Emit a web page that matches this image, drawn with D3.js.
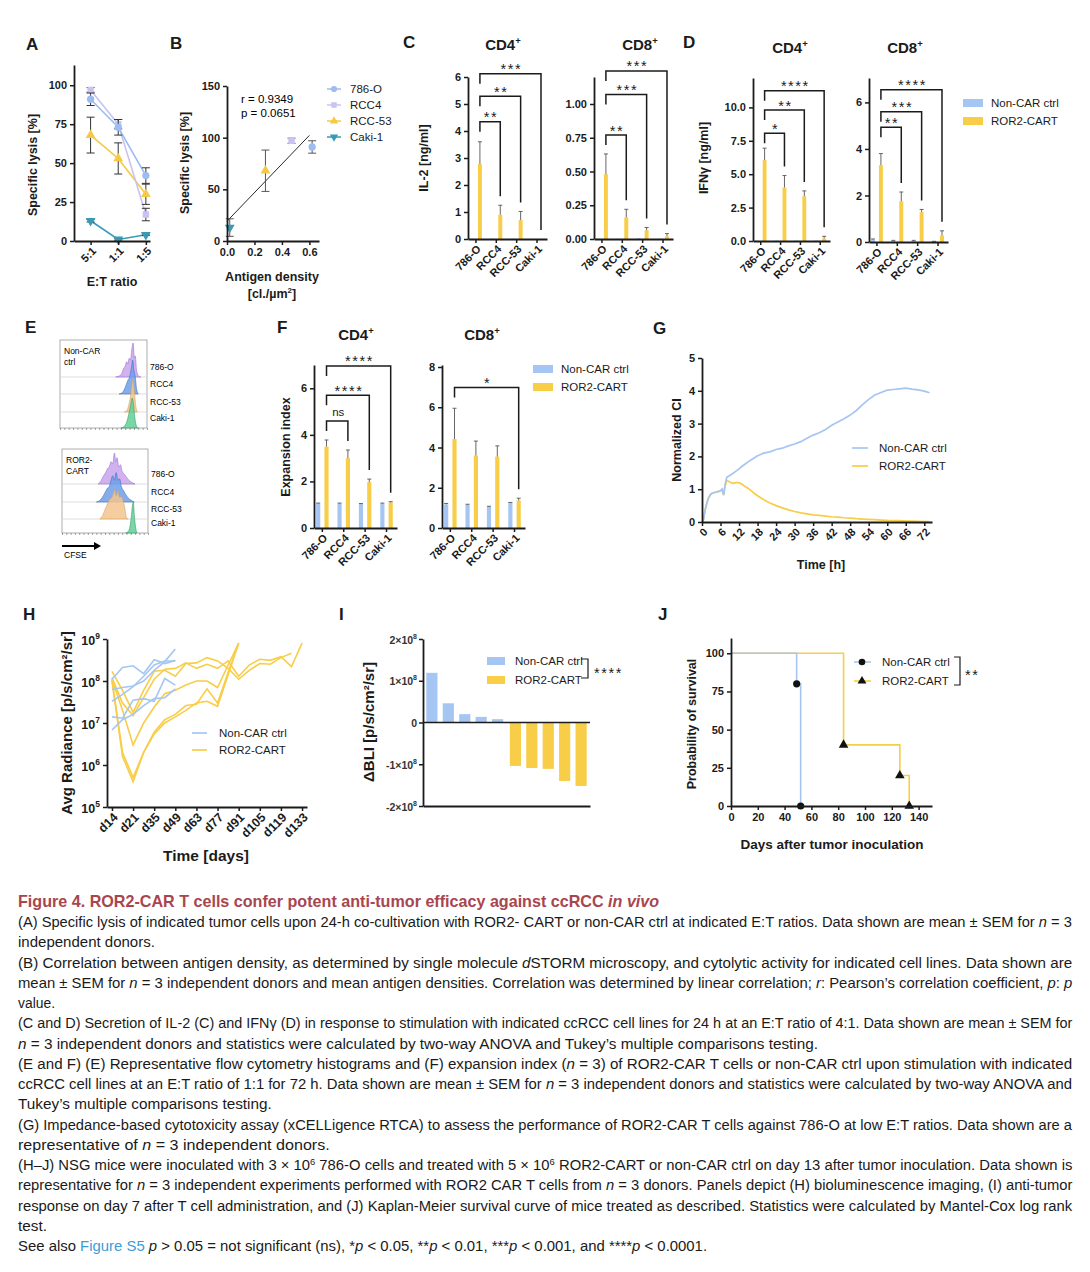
<!DOCTYPE html>
<html>
<head>
<meta charset="utf-8">
<script src="https://cdn.jsdelivr.net/npm/d3@7"></script>
<style>
  body { margin: 0; background: #fff; }
  svg text { font-family: 'Liberation Sans', Arial, sans-serif; }
</style>
</head>
<body>
<svg id="fig" width="1090" height="1272"></svg>
<script>
// ---------------- data ----------------
const cellLines = ['786-O', 'RCC4', 'RCC-53', 'Caki-1'];
const groups = ['Non-CAR ctrl', 'ROR2-CART'];

// A: specific lysis by E:T ratio
const ratios = ['5:1', '1:1', '1:5'];
const lysis786 = [91, 73, 42], lysis786Err = [4, 5, 5];
const lysisRCC4 = [97, 75, 17], lysisRCC4Err = [1.5, 3, 4];
const lysisRCC53 = [68, 53, 30], lysisRCC53Err = [11.5, 10, 6.5];
const lysisCaki = [13, 1, 4], lysisCakiErr = [0.8, 0.5, 0.5];

// B: antigen density vs lysis at 5:1
const antigenDensity = [0.62, 0.47, 0.28, 0.02];
const lysis51 = [91, 97, 68, 13];
const lysis51Err = [6, 2.5, 20, 8.5];

// C: IL-2 [ng/ml]
const il2Cd4Non = [0.01, 0.01, 0.01, 0], il2Cd4Car = [2.78, 0.9, 0.7, 0], il2Cd4CarErr = [0.82, 0.35, 0.32, 0];
const il2Cd8Non = [0.002, 0.002, 0.005, 0.002], il2Cd8Car = [0.48, 0.16, 0.065, 0.02], il2Cd8CarErr = [0.15, 0.06, 0.02, 0.02];
// D: IFNg [ng/ml]
const ifnCd4Non = [0.03, 0.03, 0.03, 0.03], ifnCd4Car = [6.05, 4.0, 3.35, 0.2], ifnCd4CarErr = [0.9, 0.9, 0.4, 0.15];
const ifnCd8Non = [0.1, 0.05, 0.05, 0.02], ifnCd8NonErr = [0.03, 0.02, 0.02, 0.01];
const ifnCd8Car = [3.3, 1.75, 1.28, 0.28], ifnCd8CarErr = [0.5, 0.4, 0.12, 0.2];
// F: expansion index
const expCd4Non = [1.05, 1.05, 1.03, 1.05], expCd4NonErr = [0.02, 0.02, 0.02, 0.02];
const expCd4Car = [3.5, 3.0, 1.97, 1.1], expCd4CarErr = [0.28, 0.35, 0.13, 0.03];
const expCd8Non = [1.17, 1.15, 1.05, 1.25], expCd8NonErr = [0.05, 0.03, 0.03, 0.02];
const expCd8Car = [4.42, 3.6, 3.55, 1.37], expCd8CarErr = [1.53, 0.72, 0.53, 0.11];

// E: CFSE histograms, [CFSE position 0-100, relative count]
const cfseNon786 = [[64,0],[68,0.03],[71,0.1],[73,0.25],[75,0.32],[76.5,0.45],[78,0.38],[79.5,0.55],[81,0.5],[82.5,0.8],[84,1.0],[85.5,0.55],[86.5,0.62],[88,0.2],[90,0.04],[93,0]];
const cfseNonRCC4 = [[68,0],[72,0.05],[75,0.2],[78,0.4],[80,0.5],[82,0.75],[83.5,1.0],[85,0.7],[86.5,0.5],[88,0.15],[90,0]];
const cfseNonRCC53 = [[74,0],[77,0.05],[79,0.2],[81,0.45],[82.5,0.8],[84,0.97],[85.5,0.6],[87,0.2],[89,0]];
const cfseNonCaki = [[70,0],[74,0.05],[77,0.2],[79,0.4],[81,0.65],[83,0.88],[84.5,0.7],[86,0.3],[88,0.05],[90,0]];
const cfseCar786 = [[42,0],[45,0.08],[48,0.25],[51,0.38],[53,0.5],[55,0.55],[57,0.72],[59,0.65],[61,1.0],[62.5,0.72],[64,0.85],[66,0.55],[68,0.62],[70,0.4],[73,0.3],[76,0.18],[80,0.07],[85,0]];
const cfseCarRCC4 = [[40,0],[44,0.05],[47,0.15],[50,0.3],[53,0.45],[55,0.5],[57,0.7],[59,0.85],[61,0.7],[63,0.95],[65,0.7],[67,0.75],[69,0.5],[72,0.35],[75,0.2],[79,0.08],[84,0]];
const cfseCarRCC53 = [[44,0],[47,0.1],[50,0.3],[53,0.5],[56,0.65],[58,0.7],[60,0.85],[61.5,0.95],[63,0.75],[65,0.9],[67,0.7],[69,0.72],[71,0.6],[73,0.35],[75,0.05],[77,0]];
const cfseCarCaki = [[74,0],[77,0.05],[79,0.2],[80.5,0.5],[82,0.9],[83,1.0],[84,0.6],[85.5,0.2],[87,0]];

// G: impedance (normalized CI) over time [h]
const gTime = [0,0.5,1,1.5,2,2.5,3,4,5,6,6.5,7,7.5,8,9,10,11,12,13,14,15,16,17,18,19,20,22,24,26,28,30,32,34,36,38,40,42,44,46,48,50,52,54,56,58,60,62,64,66,68,70,72,73.7];
const ciNon = [0,0.08,0.36,0.55,0.71,0.8,0.86,0.9,0.92,0.95,1.0,0.82,1.15,1.36,1.42,1.48,1.55,1.62,1.7,1.77,1.84,1.9,1.96,2.02,2.06,2.1,2.14,2.21,2.25,2.32,2.38,2.45,2.55,2.65,2.72,2.82,2.95,3.05,3.15,3.26,3.4,3.58,3.74,3.87,3.95,4.02,4.04,4.06,4.08,4.05,4.03,3.99,3.94];
const ciCar = [0,0.08,0.36,0.55,0.71,0.8,0.86,0.9,0.92,0.95,1.0,0.82,1.1,1.27,1.22,1.18,1.2,1.2,1.15,1.08,1.02,0.95,0.87,0.8,0.74,0.68,0.58,0.5,0.43,0.37,0.32,0.28,0.25,0.22,0.2,0.18,0.16,0.15,0.13,0.12,0.1,0.09,0.08,0.07,0.06,0.05,0.045,0.04,0.03,0.025,0.02,0.015,0.01];

// H: BLI per mouse
const hDays = ['d14','d17','d21','d28','d35','d42','d49','d56','d63','d70','d77','d84','d91','d98','d105','d112','d119','d126','d133'];
const hLabelDays = ['d14','d21','d35','d49','d63','d77','d91','d105','d119','d133'];
const bliNon1 = [1.1e8, 2.1e8, 2.3e8, 1.5e8, 3.2e8, 2.6e8, 3.1e8];
const bliNon2 = [6.3e7, 7.0e7, 7.6e7, 1.0e8, 1.8e8, 2.9e8, 5.8e8];
const bliNon3 = [3.3e7, 4.8e7, 7.3e7, 1.3e8, 2.4e8, 3.0e8, 3.0e8];
const bliNon4 = [1.4e7, 1.3e7, 3.5e7, 3.8e7, 3.3e7, 1.15e8, 8.0e7];
const bliNon5 = [6.8e6, 1.2e7, 1.6e7, 2.6e7, 3.8e7, 4.0e7, 6.5e7];
const bliCar1 = [1.7e8, 6.0e7, 1.8e7, 6.0e7, 1.7e8, 1.8e8, 1.3e8, 2.6e8, 2.7e8, 3.6e8, 3.0e8, 2.0e8, 1.1e8, 1.8e8, 2.6e8, 2.5e8, 3.6e8, 4.6e8];
const bliCar2 = [1.1e8, 2.0e7, 3.0e6, 1.0e7, 2.4e7, 5.0e7, 6.0e7, 8.0e7, 1.0e8, 1.0e8, 7.0e7, 2.4e8, 8.0e8];
const bliCar3 = [1.1e8, 2.0e6, 5.0e5, 2.0e6, 6.0e6, 1.2e7, 1.6e7, 2.6e7, 2.8e7, 6.5e7, 3.0e7, 1.6e8, 8.0e8];
const bliCar4 = [1.0e8, 1.6e6, 4.0e5, 2.0e6, 5.5e6, 1.0e7, 1.4e7, 2.0e7, 3.0e7, 3.3e7, 2.5e7, 1.4e8, 8.0e8];
const bliCar5 = [1.2e8, 3.0e7, 1.5e7, 4.0e7, 1.1e8, 1.9e8, 2.0e8, 2.7e8, 2.0e8, 2.5e8, 2.0e8, 3.0e8, 1.3e8, 2.4e8, 3.3e8, 3.1e8, 3.8e8, 2.2e8, 8.0e8];

// I: delta BLI per mouse
const mice = ['m1', 'm2', 'm3', 'm4', 'm5'];
const dBliNon = [1.19e8, 0.46e8, 0.2e8, 0.135e8, 0.08e8];
const dBliCar = [-1.04e8, -1.09e8, -1.11e8, -1.4e8, -1.52e8];

// J: survival
const survNonDays = [0, 49, 52], survNon = [100, 80, 0];
const survCarDays = [0, 84, 126, 133], survCar = [100, 40, 20, 0];

// ---------------- helpers ----------------
const svg = d3.select('#fig');
const F = "'Liberation Sans', Arial, sans-serif";
const FC = "Lato, 'Open Sans', sans-serif";
const BLUE = '#a5c6f2', YEL = '#f8cd48', INK = '#1b1b1b';
const seriesColors = ['#9dbdf0', '#c8c4f2', '#f5c944', '#3a9ab5'];

function styleAxis(g, size = 11, font = F) {
  g.selectAll('path.domain').attr('stroke', INK).attr('stroke-width', 1.8);
  g.selectAll('.tick line').attr('stroke', INK).attr('stroke-width', 1.5);
  g.selectAll('.tick text').attr('font-family', font).attr('font-weight', 'bold')
    .attr('font-size', size).attr('fill', INK);
}
function rotateTicks(g) {
  g.selectAll('.tick text').attr('x', 0).attr('y', 0).attr('dy', '0.35em')
    .attr('text-anchor', 'end').attr('transform', 'translate(3,8) rotate(-45)');
}
function letter(t, x, y) {
  svg.append('text').attr('x', x).attr('y', y).attr('font-family', F)
    .attr('font-weight', 'bold').attr('font-size', 17).attr('fill', INK).text(t);
}
function yTitle(text, x, y, size = 12.5, font = F) {
  svg.append('text').attr('transform', `translate(${x},${y}) rotate(-90)`)
    .attr('text-anchor', 'middle').attr('dy', '0.35em').attr('font-family', font)
    .attr('font-weight', 'bold').attr('font-size', size).attr('fill', INK).text(text);
}
function xTitle(text, x, y, size = 12.5, font = F) {
  svg.append('text').attr('x', x).attr('y', y).attr('text-anchor', 'middle')
    .attr('font-family', font).attr('font-weight', 'bold').attr('font-size', size)
    .attr('fill', INK).text(text);
}
function cdTitle(n, x, y) {
  const t = svg.append('text').attr('x', x).attr('y', y).attr('text-anchor', 'middle')
    .attr('font-weight', 'bold').attr('font-size', 15).attr('fill', INK);
  t.append('tspan').text('CD' + n);
  t.append('tspan').attr('dy', -6).attr('font-size', 9.5).text('+');
}
const shapes = [d3.symbolCircle, d3.symbolSquare, d3.symbolTriangle, 'down'];
function drawMarker(g, k, size, cx, cy) {
  const p = g.append('path').attr('fill', seriesColors[k]);
  if (shapes[k] === 'down') p.attr('d', d3.symbol(d3.symbolTriangle, size)()).attr('transform', `translate(${cx},${cy}) rotate(180)`);
  else p.attr('d', d3.symbol(shapes[k], size)()).attr('transform', `translate(${cx},${cy})`);
}

// ---------------- panel letters ----------------
[['A',26,50],['B',170,49],['C',403,48],['D',683,48],['E',25,333],['F',277,333],['G',653,334],['H',23,620],['I',339,620],['J',658,620]]
  .forEach(d => letter(...d));

// ---------------- A ----------------
(function () {
  const x = d3.scaleLinear().domain([-0.6, 2.15]).range([74, 150]);
  const y = d3.scaleLinear().domain([0, 113]).range([241, 65]);
  const g = svg.append('g');
  const vals = [lysis786, lysisRCC4, lysisRCC53, lysisCaki];
  const errs = [lysis786Err, lysisRCC4Err, lysisRCC53Err, lysisCakiErr];
  [3, 2, 1, 0].forEach(k => {
    g.append('path').datum(vals[k]).attr('fill', 'none').attr('stroke', seriesColors[k]).attr('stroke-width', 1.6)
      .attr('d', d3.line().x((d, i) => x(i)).y(d => y(d)));
  });
  [3, 2, 1, 0].forEach(k => {
    vals[k].forEach((v, i) => {
      const e = errs[k][i];
      g.append('path').attr('fill', 'none').attr('stroke', '#333').attr('stroke-width', 1)
        .attr('d', `M${x(i)},${y(v - e)}V${y(v + e)}M${x(i) - 4},${y(v - e)}h8M${x(i) - 4},${y(v + e)}h8`);
      drawMarker(g, k, 42, x(i), y(v));
    });
  });
  const ya = g.append('g').attr('transform', 'translate(74,0)')
    .call(d3.axisLeft(y).tickValues([0, 25, 50, 75, 100]).tickSize(4).tickSizeOuter(0));
  styleAxis(ya);
  const xa = g.append('g').attr('transform', 'translate(0,241)')
    .call(d3.axisBottom(x).tickValues([0, 1, 2]).tickFormat(i => ratios[i]).tickSize(4).tickSizeOuter(0));
  styleAxis(xa); rotateTicks(xa);
  yTitle('Specific lysis [%]', 33, 165);
  xTitle('E:T ratio', 112, 286);
})();

// ---------------- B ----------------
(function () {
  const x = d3.scaleLinear().domain([0, 0.67]).range([227, 319]);
  const y = d3.scaleLinear().domain([0, 150]).range([241, 86]);
  const g = svg.append('g');
  // least squares fit line
  const mx = d3.mean(antigenDensity), my = d3.mean(lysis51);
  const sxy = d3.sum(antigenDensity, (d, i) => (d - mx) * (lysis51[i] - my));
  const sxx = d3.sum(antigenDensity, d => (d - mx) * (d - mx));
  const slope = sxy / sxx, icpt = my - slope * mx;
  g.append('line').attr('x1', x(0)).attr('y1', y(icpt)).attr('x2', x(0.6)).attr('y2', y(icpt + slope * 0.6))
    .attr('stroke', '#111').attr('stroke-width', 0.9);
  antigenDensity.forEach((d, k) => {
    const v = lysis51[k], e = lysis51Err[k];
    g.append('path').attr('fill', 'none').attr('stroke', '#555').attr('stroke-width', 1)
      .attr('d', `M${x(d)},${y(v - e)}V${y(v + e)}M${x(d) - 4},${y(v - e)}h8M${x(d) - 4},${y(v + e)}h8`);
    drawMarker(g, k, 42, x(d), y(v));
  });
  const ya = g.append('g').attr('transform', 'translate(227,0)')
    .call(d3.axisLeft(y).tickValues([0, 50, 100, 150]).tickSize(4).tickSizeOuter(0));
  styleAxis(ya);
  const xa = g.append('g').attr('transform', 'translate(0,241)')
    .call(d3.axisBottom(x).tickValues([0, 0.2, 0.4, 0.6]).tickFormat(d3.format('.1f')).tickSize(4).tickSizeOuter(0));
  styleAxis(xa);
  g.append('text').attr('x', 241).attr('y', 103).attr('font-size', 11.5).text('r = 0.9349');
  g.append('text').attr('x', 241).attr('y', 117).attr('font-size', 11.5).text('p = 0.0651');
  cellLines.forEach((c, k) => {
    const ly = 89 + k * 16;
    g.append('line').attr('x1', 327).attr('x2', 341).attr('y1', ly).attr('y2', ly).attr('stroke', seriesColors[k]).attr('stroke-width', 1.5);
    drawMarker(g, k, 30, 334, ly);
    g.append('text').attr('x', 350).attr('y', ly + 4).attr('font-size', 11.5).attr('fill', INK).text(c);
  });
  yTitle('Specific lysis [%]', 185, 163);
  xTitle('Antigen density', 272, 281);
  const t = svg.append('text').attr('x', 272).attr('y', 298).attr('text-anchor', 'middle')
    .attr('font-weight', 'bold').attr('font-size', 12.5).attr('fill', INK);
  t.append('tspan').text('[cl./µm');
  t.append('tspan').attr('dy', -5).attr('font-size', 8).text('2');
  t.append('tspan').attr('dy', 5).text(']');
})();

// ---------------- grouped bar panels (C, D, F) ----------------
function barPanel(o) {
  const y = d3.scaleLinear().domain([0, o.yMax]).range([o.bottom, o.top]);
  const x0 = d3.scaleBand().domain(cellLines).range([o.left, o.right]).paddingInner(0.22).paddingOuter(0.05).align(0);
  const x1 = d3.scaleBand().domain(groups).range([0, x0.bandwidth()]).paddingInner(0.5).paddingOuter(0.25);
  const g = svg.append('g');
  const series = [
    { name: groups[0], v: o.non, e: o.nonErr || o.non.map(() => 0), c: BLUE },
    { name: groups[1], v: o.car, e: o.carErr, c: YEL }
  ];
  series.forEach(s => {
    g.selectAll(null).data(cellLines).join('rect')
      .attr('x', d => x0(d) + x1(s.name)).attr('width', x1.bandwidth())
      .attr('y', (d, i) => y(s.v[i])).attr('height', (d, i) => y(0) - y(s.v[i]))
      .attr('fill', s.c);
    g.selectAll(null).data(cellLines.filter((d, i) => s.e[i] > 0)).join('path')
      .attr('fill', 'none').attr('stroke', '#555').attr('stroke-width', 0.9)
      .attr('d', d => {
        const i = cellLines.indexOf(d);
        const cx = x0(d) + x1(s.name) + x1.bandwidth() / 2;
        const y2 = y(s.v[i] + s.e[i]);
        return `M${cx},${y(s.v[i])}V${y2}M${cx - 2},${y2}H${cx + 2}`;
      });
  });
  const ya = g.append('g').attr('transform', `translate(${o.left},0)`)
    .call(d3.axisLeft(y).tickValues(o.ticks).tickFormat(o.fmt).tickSize(4).tickSizeOuter(0));
  styleAxis(ya);
  const xa = g.append('g').attr('transform', `translate(0,${o.bottom})`)
    .call(d3.axisBottom(x0).tickSize(4).tickSizeOuter(0));
  styleAxis(xa); rotateTicks(xa);
  const cx = d => x0(d) + x1(groups[1]) + x1.bandwidth() / 2;
  o.brackets.forEach(b => {
    const j = cellLines.indexOf(b.to);
    const top = Math.max(o.car[j] + o.carErr[j], o.non[j] + (o.nonErr ? o.nonErr[j] : 0));
    const xl = cx(cellLines[0]), xr = cx(b.to), yb = y(b.y);
    g.append('path').attr('fill', 'none').attr('stroke', INK).attr('stroke-width', 1.5)
      .attr('d', `M${xl},${yb + 10}V${yb}H${xr}V${y(top) - 9}`);
    g.append('text').attr('x', (xl + xr) / 2 + 1).attr('y', b.s === 'ns' ? yb - 5 : yb + 0.5)
      .attr('text-anchor', 'middle').attr('font-size', b.s === 'ns' ? 11.5 : 14.5)
      .attr('letter-spacing', b.s === 'ns' ? 0 : 1.6).attr('fill', INK).text(b.s);
  });
}
function barLegend(x, y0) {
  groups.forEach((gname, k) => {
    svg.append('rect').attr('x', x).attr('y', y0 + k * 18 - 4).attr('width', 20).attr('height', 8).attr('fill', k ? YEL : BLUE);
    svg.append('text').attr('x', x + 28).attr('y', y0 + k * 18 + 4).attr('font-size', 11.5).attr('fill', INK).text(gname);
  });
}

// C
barPanel({ left: 468, right: 547, top: 77, bottom: 239, yMax: 6, ticks: [0, 1, 2, 3, 4, 5, 6], fmt: d3.format('d'),
  non: il2Cd4Non, car: il2Cd4Car, carErr: il2Cd4CarErr,
  brackets: [{ to: 'RCC4', y: 4.34, s: '**' }, { to: 'RCC-53', y: 5.29, s: '**' }, { to: 'Caki-1', y: 6.12, s: '***' }] });
barPanel({ left: 594, right: 673, top: 77, bottom: 239, yMax: 1.2, ticks: [0, 0.25, 0.5, 0.75, 1.0], fmt: d3.format('.2f'),
  non: il2Cd8Non, car: il2Cd8Car, carErr: il2Cd8CarErr,
  brackets: [{ to: 'RCC4', y: 0.77, s: '**' }, { to: 'RCC-53', y: 1.07, s: '***' }, { to: 'Caki-1', y: 1.245, s: '***' }] });
cdTitle(4, 503, 50); cdTitle(8, 640, 50);
yTitle('IL-2  [ng/ml]', 424, 158, 12.5);

// D
barPanel({ left: 753, right: 830, top: 78, bottom: 241, yMax: 12.2, ticks: [0, 2.5, 5, 7.5, 10], fmt: d3.format('.1f'),
  non: ifnCd4Non, car: ifnCd4Car, carErr: ifnCd4CarErr,
  brackets: [{ to: 'RCC4', y: 8.06, s: '*' }, { to: 'RCC-53', y: 9.8, s: '**' }, { to: 'Caki-1', y: 11.24, s: '****' }] });
barPanel({ left: 869, right: 948, top: 78, bottom: 242, yMax: 7.05, ticks: [0, 2, 4, 6], fmt: d3.format('d'),
  non: ifnCd8Non, nonErr: ifnCd8NonErr, car: ifnCd8Car, carErr: ifnCd8CarErr,
  brackets: [{ to: 'RCC4', y: 4.93, s: '**' }, { to: 'RCC-53', y: 5.6, s: '***' }, { to: 'Caki-1', y: 6.55, s: '****' }] });
cdTitle(4, 790, 53); cdTitle(8, 905, 53);
yTitle('IFNγ [ng/ml]', 704, 158, 12.5);
barLegend(963, 103);

// F
barPanel({ left: 314, right: 397, top: 365, bottom: 528, yMax: 7, ticks: [0, 2, 4, 6], fmt: d3.format('d'),
  non: expCd4Non, nonErr: expCd4NonErr, car: expCd4Car, carErr: expCd4CarErr,
  brackets: [{ to: 'RCC4', y: 4.59, s: 'ns' }, { to: 'RCC-53', y: 5.7, s: '****' }, { to: 'Caki-1', y: 6.96, s: '****' }] });
barPanel({ left: 442, right: 525, top: 365, bottom: 528, yMax: 8.1, ticks: [0, 2, 4, 6, 8], fmt: d3.format('d'),
  non: expCd8Non, nonErr: expCd8NonErr, car: expCd8Car, carErr: expCd8CarErr,
  brackets: [{ to: 'Caki-1', y: 6.98, s: '*' }] });
cdTitle(4, 356, 340); cdTitle(8, 482, 340);
yTitle('Expansion index', 286, 447, 12.5);
barLegend(533, 369);

// ---------------- E ----------------
(function () {
  const fills = ['#c9a4ec', '#6e9fe6', '#f3c48e', '#63cf96'];
  const strokes = ['#9b6fd6', '#3e6fcc', '#d9a15e', '#2fa064'];
  const boxes = [
    { x0: 60, x1: 147, top: 340, bases: [377, 394, 412, 428], h: 34, hists: [cfseNon786, cfseNonRCC4, cfseNonRCC53, cfseNonCaki], label: ['Non-CAR', 'ctrl'] },
    { x0: 62, x1: 148, top: 449, bases: [484, 502, 519, 533], h: 31, hists: [cfseCar786, cfseCarRCC4, cfseCarRCC53, cfseCarCaki], label: ['ROR2-', 'CART'] }
  ];
  boxes.forEach(b => {
    const x = d3.scaleLinear().domain([0, 100]).range([b.x0, b.x1]);
    const g = svg.append('g');
    g.append('rect').attr('x', b.x0).attr('y', b.top).attr('width', b.x1 - b.x0).attr('height', b.bases[3] - b.top)
      .attr('fill', '#fff').attr('stroke', '#9a9a9a').attr('stroke-width', 0.8);
    b.bases.slice(0, 3).forEach(yb => g.append('line').attr('x1', b.x0).attr('x2', b.x1).attr('y1', yb).attr('y2', yb)
      .attr('stroke', '#d4d4d4').attr('stroke-width', 0.8));
    b.hists.forEach((h, k) => {
      const yb = b.bases[k];
      g.append('path').datum(h)
        .attr('d', d3.area().curve(d3.curveMonotoneX).x(d => x(d[0])).y0(yb).y1(d => yb - d[1] * b.h))
        .attr('fill', fills[k]).attr('fill-opacity', 0.85).attr('stroke', strokes[k]).attr('stroke-width', 0.6);
    });
    const ax = g.append('g').attr('transform', `translate(0,${b.bases[3]})`)
      .call(d3.axisBottom(x).ticks(20).tickSize(2).tickFormat(''));
    ax.select('.domain').remove();
    ax.selectAll('.tick line').attr('stroke', '#666').attr('stroke-width', 0.6);
    g.append('text').attr('x', b.x0 + 4).attr('y', b.top + 14).attr('font-family', FC).attr('font-size', 8.5).text(b.label[0]);
    g.append('text').attr('x', b.x0 + 4).attr('y', b.top + 25).attr('font-family', FC).attr('font-size', 8.5).text(b.label[1]);
    cellLines.forEach((c, k) => {
      g.append('text').attr('x', b.x1 + 3).attr('y', b.bases[k] - 7).attr('font-family', FC).attr('font-size', 8.5).text(c);
    });
  });
  svg.append('line').attr('x1', 62).attr('x2', 95).attr('y1', 546).attr('y2', 546).attr('stroke', '#000').attr('stroke-width', 2);
  svg.append('path').attr('d', 'M94,542L101,546L94,550Z').attr('fill', '#000');
  svg.append('text').attr('x', 64).attr('y', 558).attr('font-family', FC).attr('font-size', 8.5).text('CFSE');
})();

// ---------------- G ----------------
(function () {
  const x = d3.scaleLinear().domain([0, 74.5]).range([702, 932]);
  const y = d3.scaleLinear().domain([0, 5]).range([522, 358]);
  const g = svg.append('g');
  const line = d3.line().x((d, i) => x(gTime[i])).y(d => y(d));
  g.append('path').datum(ciCar).attr('d', line).attr('fill', 'none').attr('stroke', YEL).attr('stroke-width', 1.7);
  g.append('path').datum(ciNon).attr('d', line).attr('fill', 'none').attr('stroke', BLUE).attr('stroke-width', 1.7);
  const ya = g.append('g').attr('transform', 'translate(702,0)')
    .call(d3.axisLeft(y).tickValues([0, 1, 2, 3, 4, 5]).tickFormat(d3.format('d')).tickSize(4).tickSizeOuter(0));
  styleAxis(ya);
  const xa = g.append('g').attr('transform', 'translate(0,522)')
    .call(d3.axisBottom(x).tickValues(d3.range(0, 73, 6)).tickFormat(d3.format('d')).tickSize(4).tickSizeOuter(0));
  styleAxis(xa); rotateTicks(xa);
  groups.forEach((gname, k) => {
    const ly = 448 + k * 18;
    g.append('line').attr('x1', 852).attr('x2', 868).attr('y1', ly).attr('y2', ly).attr('stroke', k ? YEL : BLUE).attr('stroke-width', 1.7);
    g.append('text').attr('x', 879).attr('y', ly + 4).attr('font-size', 11.5).attr('fill', INK).text(gname);
  });
  yTitle('Normalized CI', 677, 440);
  xTitle('Time [h]', 821, 569);
})();

// ---------------- H ----------------
(function () {
  const x = d3.scalePoint().domain(hDays).range([107, 307]).padding(0.47);
  const y = d3.scaleLog().domain([1e5, 1e9]).range([807, 639]);
  const g = svg.append('g');
  const line = d3.line().x((d, i) => x(hDays[i])).y(d => y(d));
  [bliCar1, bliCar2, bliCar3, bliCar4, bliCar5].forEach(m =>
    g.append('path').datum(m).attr('d', line).attr('fill', 'none').attr('stroke', YEL).attr('stroke-width', 1.6));
  [bliNon1, bliNon2, bliNon3, bliNon4, bliNon5].forEach(m =>
    g.append('path').datum(m).attr('d', line).attr('fill', 'none').attr('stroke', BLUE).attr('stroke-width', 1.6));
  const ya = g.append('g').attr('transform', 'translate(107,0)')
    .call(d3.axisLeft(y).tickValues([1e5, 1e6, 1e7, 1e8, 1e9]).tickFormat('').tickSize(4).tickSizeOuter(0));
  styleAxis(ya, 12.5, FC);
  ya.selectAll('.tick').each(function (d) {
    const t = d3.select(this).append('text').attr('x', -7).attr('dy', '0.4em').attr('text-anchor', 'end')
      .attr('font-family', FC).attr('font-weight', 'bold').attr('font-size', 12.5).attr('fill', INK);
    t.append('tspan').text('10');
    t.append('tspan').attr('dy', -6).attr('font-size', 8.5).text(Math.round(Math.log10(d)));
  });
  const xa = g.append('g').attr('transform', 'translate(0,807)')
    .call(d3.axisBottom(x).tickValues(hLabelDays).tickSize(4).tickSizeOuter(0));
  styleAxis(xa, 12.5, FC); rotateTicks(xa);
  groups.forEach((gname, k) => {
    const ly = 733 + k * 17;
    g.append('line').attr('x1', 192).attr('x2', 207).attr('y1', ly).attr('y2', ly).attr('stroke', k ? YEL : BLUE).attr('stroke-width', 1.7);
    g.append('text').attr('x', 219).attr('y', ly + 4).attr('font-family', FC).attr('font-size', 11.5).attr('fill', INK).text(gname);
  });
  yTitle('Avg Radiance [p/s/cm²/sr]', 67, 723, 15, FC);
  xTitle('Time [days]', 206, 861, 15.5, FC);
})();

// ---------------- I ----------------
(function () {
  const y = d3.scaleLinear().domain([-2e8, 2e8]).range([806, 639]);
  const x0 = d3.scaleBand().domain(groups).range([423, 590]).paddingInner(0.04).paddingOuter(0.02);
  const x1 = d3.scaleBand().domain(mice).range([0, x0.bandwidth()]).paddingInner(0.32).paddingOuter(0.1);
  const g = svg.append('g');
  [[dBliNon, BLUE, groups[0]], [dBliCar, YEL, groups[1]]].forEach(([vals, c, gname]) => {
    g.selectAll(null).data(vals).join('rect')
      .attr('x', (d, i) => x0(gname) + x1(mice[i])).attr('width', x1.bandwidth())
      .attr('y', d => y(Math.max(0, d))).attr('height', d => Math.abs(y(d) - y(0))).attr('fill', c);
  });
  g.append('line').attr('x1', 423).attr('x2', 590).attr('y1', y(0)).attr('y2', y(0)).attr('stroke', INK).attr('stroke-width', 1.6);
  const xa = g.append('g').attr('transform', 'translate(0,806)').call(d3.axisBottom(x0).tickSize(0).tickFormat(''));
  styleAxis(xa);
  const ya = g.append('g').attr('transform', 'translate(423,0)')
    .call(d3.axisLeft(y).tickValues([-2e8, -1e8, 0, 1e8, 2e8]).tickFormat('').tickSize(4).tickSizeOuter(0));
  styleAxis(ya);
  ya.selectAll('.tick').each(function (d) {
    const t = d3.select(this).append('text').attr('x', -6).attr('dy', '0.4em').attr('text-anchor', 'end')
      .attr('font-family', FC).attr('font-weight', 'bold').attr('font-size', 10.5).attr('fill', '#333');
    if (d === 0) { t.text('0'); return; }
    t.append('tspan').text((d < 0 ? '-' : '') + Math.abs(d / 1e8) + '×10');
    t.append('tspan').attr('dy', -5).attr('font-size', 7).text('8');
  });
  groups.forEach((gname, k) => {
    const ly = 661 + k * 19;
    g.append('rect').attr('x', 487).attr('y', ly - 4).attr('width', 18).attr('height', 8).attr('fill', k ? YEL : BLUE);
    g.append('text').attr('x', 515).attr('y', ly + 4).attr('font-family', FC).attr('font-size', 11.5).attr('fill', INK).text(gname);
  });
  g.append('path').attr('d', 'M581,659H588V678H581').attr('fill', 'none').attr('stroke', INK).attr('stroke-width', 1.2);
  g.append('text').attr('x', 594).attr('y', 678).attr('font-size', 14.5).attr('letter-spacing', 1.6).attr('fill', INK).text('****');
  yTitle('ΔBLI [p/s/cm²/sr]', 369, 722, 15, FC);
})();

// ---------------- J ----------------
(function () {
  const x = d3.scaleLinear().domain([0, 150]).range([731, 932]);
  const y = d3.scaleLinear().domain([0, 110]).range([806, 638]);
  const g = svg.append('g');
  const step = d3.line().curve(d3.curveStepAfter);
  g.append('path').attr('d', step(survCarDays.map((d, i) => [x(d), y(survCar[i])])))
    .attr('fill', 'none').attr('stroke', YEL).attr('stroke-width', 1.6);
  g.append('path').attr('d', step(survNonDays.map((d, i) => [x(d), y(survNon[i])])))
    .attr('fill', 'none').attr('stroke', BLUE).attr('stroke-width', 1.6);
  g.selectAll(null).data(survNonDays.slice(1)).join('circle')
    .attr('cx', d => x(d)).attr('cy', (d, i) => y(survNon[i + 1])).attr('r', 3.6).attr('fill', '#111');
  g.selectAll(null).data(survCarDays.slice(1)).join('path')
    .attr('d', d3.symbol(d3.symbolTriangle, 40)()).attr('fill', '#111')
    .attr('transform', (d, i) => `translate(${x(d)},${y(survCar[i + 1])})`);
  const ya = g.append('g').attr('transform', 'translate(731,0)')
    .call(d3.axisLeft(y).tickValues([0, 25, 50, 75, 100]).tickSize(4).tickSizeOuter(0));
  styleAxis(ya);
  const xa = g.append('g').attr('transform', 'translate(0,806)')
    .call(d3.axisBottom(x).tickValues(d3.range(0, 141, 20)).tickSize(4).tickSizeOuter(0));
  styleAxis(xa);
  groups.forEach((gname, k) => {
    const ly = 662 + k * 19;
    g.append('line').attr('x1', 854).attr('x2', 871).attr('y1', ly).attr('y2', ly).attr('stroke', k ? YEL : BLUE).attr('stroke-width', 1.6);
    if (k) g.append('path').attr('d', d3.symbol(d3.symbolTriangle, 34)()).attr('fill', '#111').attr('transform', `translate(862,${ly})`);
    else g.append('circle').attr('cx', 862).attr('cy', ly).attr('r', 3.3).attr('fill', '#111');
    g.append('text').attr('x', 882).attr('y', ly + 4).attr('font-size', 11.5).attr('fill', INK).text(gname);
  });
  g.append('path').attr('d', 'M954,657H960V685H954').attr('fill', 'none').attr('stroke', INK).attr('stroke-width', 1.2);
  g.append('text').attr('x', 965).attr('y', 680).attr('font-size', 14.5).attr('letter-spacing', 1.6).attr('fill', INK).text('**');
  yTitle('Probability of survival', 692, 724);
  xTitle('Days after tumor inoculation', 832, 849, 13.5);
})();

// ---------------- caption ----------------
const captionTitle = [['Figure 4.  ROR2-CAR T cells confer potent anti-tumor efficacy against ccRCC '], ['in vivo', 'i']];
const captionLines = [
  [['(A) Specific lysis of indicated tumor cells upon 24-h co-cultivation with ROR2- CART or non-CAR ctrl at indicated E:T ratios. Data shown are mean ± SEM for '], ['n', 'i'], [' = 3']],
  [['independent donors.']],
  [['(B) Correlation between antigen density, as determined by single molecule '], ['d', 'i'], ['STORM microscopy, and cytolytic activity for indicated cell lines. Data shown are']],
  [['mean ± SEM for '], ['n', 'i'], [' = 3 independent donors and mean antigen densities. Correlation was determined by linear correlation; '], ['r', 'i'], [': Pearson’s correlation coefficient, '], ['p', 'i'], [': '], ['p', 'i']],
  [['value.']],
  [['(C and D) Secretion of IL-2 (C) and IFNγ (D) in response to stimulation with indicated ccRCC cell lines for 24 h at an E:T ratio of 4:1. Data shown are mean ± SEM for']],
  [['n', 'i'], [' = 3 independent donors and statistics were calculated by two-way ANOVA and Tukey’s multiple comparisons testing.']],
  [['(E and F) (E) Representative flow cytometry histograms and (F) expansion index ('], ['n', 'i'], [' = 3) of ROR2-CAR T cells or non-CAR ctrl upon stimulation with indicated']],
  [['ccRCC cell lines at an E:T ratio of 1:1 for 72 h. Data shown are mean ± SEM for '], ['n', 'i'], [' = 3 independent donors and statistics were calculated by two-way ANOVA and']],
  [['Tukey’s multiple comparisons testing.']],
  [['(G) Impedance-based cytotoxicity assay (xCELLigence RTCA) to assess the performance of ROR2-CAR T cells against 786-O at low E:T ratios. Data shown are a']],
  [['representative of '], ['n', 'i'], [' = 3 independent donors.']],
  [['(H–J) NSG mice were inoculated with 3 × 10'], ['6', 's'], [' 786-O cells and treated with 5 × 10'], ['6', 's'], [' ROR2-CART or non-CAR ctrl on day 13 after tumor inoculation. Data shown is']],
  [['representative for '], ['n', 'i'], [' = 3 independent experiments performed with ROR2 CAR T cells from '], ['n', 'i'], [' = 3 donors. Panels depict (H) bioluminescence imaging, (I) anti-tumor']],
  [['response on day 7 after T cell administration, and (J) Kaplan-Meier survival curve of mice treated as described. Statistics were calculated by Mantel-Cox log rank']],
  [['test.']],
  [['See also '], ['Figure S5', 'b'], [' '], ['p', 'i'], [' > 0.05 = not significant (ns), *'], ['p', 'i'], [' < 0.05, **'], ['p', 'i'], [' < 0.01, ***'], ['p', 'i'], [' < 0.001, and ****'], ['p', 'i'], [' < 0.0001.']]
];
const captionEnds = [1073, 155, 1073, 1073, 55, 1073, 819, 1073, 1073, 272, 1073, 330, 1073, 1073, 1073, 47, 708];
const CAP = "'Liberation Sans Narrow', 'DejaVu Sans Condensed', 'Liberation Sans', sans-serif";
// each caption line is set in a condensed face, then squeezed horizontally to its measured width
function captionText(segs, x, y, endX, opts) {
  const t = svg.append('text').attr('x', 0).attr('y', 0).attr('font-family', CAP)
    .attr('font-size', opts.size).attr('fill', opts.color).attr('font-weight', opts.weight);
  let shift = 0;
  segs.forEach(([s, st]) => {
    const sp = t.append('tspan').text(s);
    if (st === 'i') sp.attr('font-style', 'italic');
    if (st === 'b') sp.attr('fill', '#3d9bd8');
    if (st === 's') { sp.attr('dy', -5).attr('font-size', 9.5); shift = 5; }
    else if (shift) { sp.attr('dy', shift); shift = 0; }
  });
  const natural = t.node().getComputedTextLength();
  t.attr('transform', `translate(${x},${y}) scale(${(endX - x) / natural},1)`);
}
captionText(captionTitle, 18, 907, 660, { size: 16, color: '#a8464f', weight: 'bold' });
captionLines.forEach((segs, i) => captionText(segs, 18, 927 + i * 20.25, captionEnds[i], { size: 15, color: '#1a1a1a', weight: 'normal' }));
</script>
</body>
</html>
